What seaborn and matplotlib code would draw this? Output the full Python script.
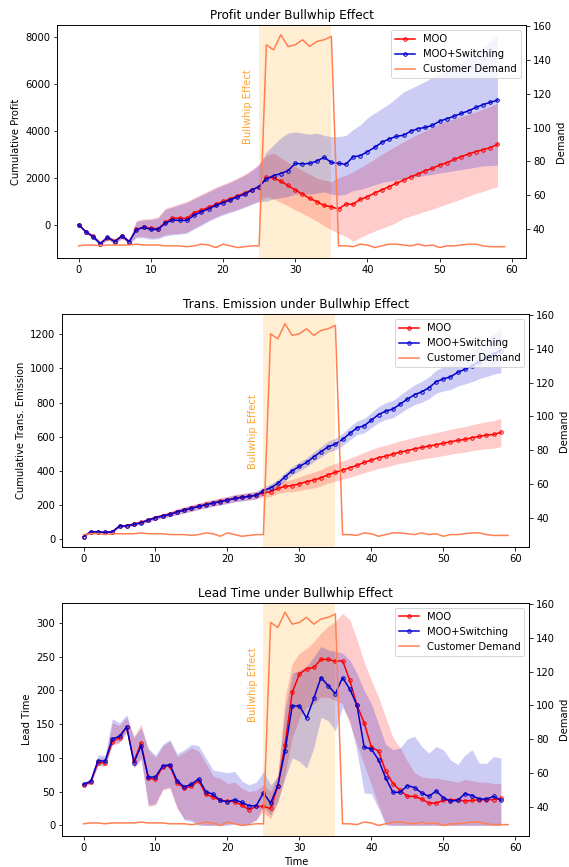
import matplotlib
matplotlib.use("agg")
import matplotlib.pyplot as plt
import matplotlib.transforms as mtransforms
import pandas as pd
import seaborn as sns

time = list(range(59))
demand_time = list(range(60))

customer_demand = [30, 30.5, 30.5, 30, 30.5, 30.5, 30.5, 30.5, 31, 30.5,
                   30.5, 30.5, 30, 30, 30, 29.5, 30, 31, 30.5, 29,
                   31, 30, 29, 29.5, 30, 30, 149, 146, 155, 148,
                   149, 152, 148, 151, 152, 154, 30, 30, 29.5, 31,
                   30.5, 29, 30, 31, 31, 30.5, 30, 31, 30, 30.5,
                   29, 30, 30, 30.5, 31, 31, 30, 29.5, 29.5, 29.5]

# ---- profit
profit_moo = [0, -300, -500, -800, -550, -700, -480, -720, -200, -100,
              -150, -170, 100, 280, 280, 270, 520, 620, 740, 870,
              990, 1100, 1230, 1350, 1490, 1620, 2010, 1990, 1850, 1670,
              1480, 1300, 1120, 980, 820, 760, 670, 880, 870, 1080,
              1190, 1350, 1480, 1620, 1760, 1900, 2040, 2160, 2300, 2400,
              2540, 2640, 2780, 2900, 3010, 3110, 3190, 3280, 3420]
profit_moo_lo = [-30, -350, -580, -900, -620, -800, -580, -800, -500, -500,
                 -560, -540, -430, -380, -360, -310, -130, 20, 200, 340,
                 460, 560, 660, 780, 900, 1020, 1200, 1100, 950, 800,
                 630, 480, 320, 150, -50, -220, -370, -500, -700, -550,
                 -400, -270, -150, -40, 100, 270, 370, 470, 570, 670,
                 770, 880, 990, 1100, 1220, 1330, 1420, 1520, 1620]
profit_moo_hi = [30, -250, -420, -700, -450, -600, -370, -630, 180, 250,
                 260, 330, 700, 800, 900, 1000, 1150, 1300, 1450, 1600,
                 1730, 1850, 2000, 2150, 2350, 2600, 2950, 3050, 2850, 2650,
                 2470, 2300, 2150, 1980, 1900, 1830, 2000, 2100, 2250, 2430,
                 2610, 2800, 3000, 3180, 3350, 3530, 3690, 3850, 4000, 4150,
                 4310, 4420, 4520, 4610, 4700, 4800, 4920, 5040, 5160]
profit_sw = [0, -300, -510, -800, -540, -720, -480, -720, -220, -110,
             -200, -200, 60, 200, 185, 185, 410, 550, 680, 820,
             940, 1050, 1190, 1300, 1480, 1620, 1950, 2090, 2180, 2300,
             2610, 2590, 2610, 2710, 2870, 2650, 2610, 2570, 2890, 2940,
             3110, 3290, 3510, 3650, 3760, 3810, 3980, 4090, 4140, 4230,
             4410, 4510, 4620, 4740, 4850, 4990, 5110, 5210, 5300]
profit_sw_lo = [-30, -350, -590, -910, -630, -810, -590, -810, -560, -560,
                -620, -600, -480, -430, -410, -360, -180, -30, 150, 290,
                420, 520, 620, 740, 860, 980, 1000, 1100, 1150, 1200,
                1300, 1300, 1300, 1350, 1400, 1300, 1250, 1300, 1450, 1500,
                1600, 1700, 1800, 1850, 1900, 1950, 2000, 2050, 2100, 2150,
                2200, 2250, 2300, 2350, 2400, 2450, 2500, 2520, 2540]
profit_sw_hi = [30, -250, -430, -700, -460, -620, -380, -640, 140, 210,
                220, 290, 650, 750, 850, 950, 1100, 1250, 1400, 1550,
                1680, 1800, 1950, 2100, 2300, 2550, 3100, 3400, 3700, 3900,
                3950, 3900, 3850, 3900, 3800, 3750, 3750, 3800, 4050, 4250,
                4550, 4750, 4950, 5150, 5400, 5650, 5800, 5950, 6100, 6270,
                6440, 6600, 6780, 6950, 7120, 7290, 7550, 7800, 8070]

# ---- transport emission
emis_moo = [14, 43, 43, 39, 43, 76, 79, 88, 98, 112,
            126, 137, 147, 161, 172, 182, 193, 203, 213, 221,
            230, 240, 246, 252, 258, 271, 277, 297, 309, 313,
            324, 336, 346, 359, 377, 391, 404, 418, 432, 449,
            463, 477, 486, 498, 510, 518, 529, 537, 545, 553,
            561, 570, 578, 584, 594, 602, 609, 613, 625]
emis_moo_sd = [2, 4, 5, 5, 6, 7, 8, 9, 10, 11,
               12, 13, 14, 16, 17, 18, 18, 19, 19, 20,
               20, 21, 21, 22, 22, 25, 28, 30, 33, 36,
               40, 43, 46, 48, 50, 52, 54, 56, 58, 60,
               62, 63, 64, 65, 66, 67, 68, 69, 70, 71,
               72, 73, 74, 75, 76, 78, 79, 81, 83]
emis_sw = [14, 43, 43, 39, 43, 76, 78, 86, 96, 111,
           125, 135, 144, 158, 170, 180, 191, 201, 211, 219,
           228, 238, 244, 250, 256, 283, 301, 326, 365, 400,
           426, 449, 482, 512, 541, 557, 584, 619, 652, 664,
           697, 730, 750, 762, 791, 820, 846, 863, 887, 922,
           939, 951, 977, 995, 1015, 1040, 1060, 1085, 1105]
emis_sw_sd = [2, 4, 5, 5, 6, 7, 8, 9, 10, 11,
              12, 13, 14, 16, 17, 18, 18, 19, 19, 20,
              20, 21, 21, 22, 22, 22, 22, 23, 24, 25,
              26, 27, 28, 30, 32, 34, 36, 38, 40, 42,
              45, 47, 49, 51, 53, 55, 58, 61, 64, 67,
              71, 75, 80, 86, 92, 100, 108, 118, 130]

# ---- lead time
lead_moo = [60, 64, 93, 93, 124, 130, 146, 95, 122, 70,
            68, 87, 88, 63, 55, 58, 66, 46, 42, 37,
            36, 35, 30, 23, 28, 28, 25, 58, 119, 197,
            224, 232, 234, 246, 246, 243, 244, 215, 178, 152,
            116, 110, 80, 62, 52, 43, 43, 39, 33, 33,
            37, 38, 38, 36, 37, 38, 38, 38, 40]
lead_moo_lo = [58, 61, 88, 88, 119, 122, 138, 84, 100, 28,
               30, 52, 55, 25, 10, 8, 2, 0, 0, 0,
               2, 3, 0, 3, 8, 20, 10, 35, 75, 130,
               160, 175, 180, 190, 190, 185, 180, 150, 120, 90,
               60, 30, 2, 0, 0, 0, 0, 0, 0, 0,
               0, 0, 0, 0, 0, 0, 0, 0, 0]
lead_moo_hi = [63, 68, 100, 100, 152, 148, 160, 132, 150, 112,
               100, 117, 125, 102, 108, 115, 110, 92, 73, 70,
               62, 64, 55, 50, 52, 60, 50, 75, 190, 240,
               255, 262, 272, 285, 295, 302, 314, 305, 275, 242,
               215, 190, 160, 130, 115, 95, 78, 72, 70, 70,
               68, 66, 64, 68, 66, 64, 64, 62, 62]
lead_sw = [61, 65, 96, 95, 128, 132, 146, 93, 118, 71,
           72, 88, 90, 66, 57, 61, 69, 50, 46, 37,
           35, 38, 34, 29, 29, 48, 33, 59, 110, 177,
           177, 159, 188, 219, 207, 195, 219, 202, 178, 116,
           113, 97, 70, 49, 49, 59, 56, 48, 43, 51,
           41, 36, 37, 47, 44, 39, 39, 43, 37]
lead_sw_lo = [59, 62, 89, 89, 120, 124, 139, 86, 98, 30,
              32, 54, 57, 27, 8, 6, 0, 0, 0, 0,
              0, 2, 0, 2, 8, 28, 15, 35, 70, 100,
              95, 85, 115, 160, 155, 140, 175, 155, 110, 48,
              47, 25, 0, 0, 0, 0, 0, 0, 0, 0,
              0, 0, 0, 0, 0, 0, 0, 0, 0]
lead_sw_hi = [64, 69, 104, 104, 158, 152, 164, 130, 145, 114,
              104, 120, 127, 106, 112, 120, 118, 100, 82, 80,
              78, 80, 66, 60, 64, 80, 60, 72, 170, 225,
              230, 235, 250, 265, 260, 258, 255, 245, 225, 200,
              180, 150, 120, 112, 115, 128, 132, 117, 107, 117,
              112, 97, 90, 104, 112, 92, 92, 102, 100]

emis_moo_lo = [m - s for m, s in zip(emis_moo, emis_moo_sd)]
emis_moo_hi = [m + s for m, s in zip(emis_moo, emis_moo_sd)]
emis_sw_lo = [m - s for m, s in zip(emis_sw, emis_sw_sd)]
emis_sw_hi = [m + s for m, s in zip(emis_sw, emis_sw_sd)]

panels = [
    dict(title="Profit under Bullwhip Effect", ylabel="Cumulative Profit",
         moo=(profit_moo, profit_moo_lo, profit_moo_hi),
         sw=(profit_sw, profit_sw_lo, profit_sw_hi),
         rect=[0.1007, 0.7024, 0.8237, 0.2687], ylim=(-1417, 8498), text_y=0.65),
    dict(title="Trans. Emission under Bullwhip Effect",
         ylabel="Cumulative Trans. Emission",
         moo=(emis_moo, emis_moo_lo, emis_moo_hi),
         sw=(emis_sw, emis_sw_lo, emis_sw_hi),
         rect=[0.1095, 0.3694, 0.8207, 0.2684], ylim=(-45, 1319), text_y=0.495),
    dict(title="Lead Time under Bullwhip Effect", ylabel="Lead Time",
         moo=(lead_moo, lead_moo_lo, lead_moo_hi),
         sw=(lead_sw, lead_sw_lo, lead_sw_hi),
         rect=[0.1095, 0.0358, 0.8207, 0.2691], ylim=(-15.7, 330), text_y=0.647),
]

fig = plt.figure(figsize=(569 / 72, 867 / 72), dpi=72)

for i, p in enumerate(panels):
    ax = fig.add_axes(p["rect"])
    ax.axvspan(25, 35, color="orange", alpha=0.18, lw=0)

    for (mean, lo, hi), color, label in [(p["moo"], "red", "MOO"),
                                         (p["sw"], "mediumblue", "MOO+Switching")]:
        df = pd.DataFrame({"t": time, "v": mean})
        ax.fill_between(time, lo, hi, color=color, alpha=0.2, lw=0)
        sns.lineplot(data=df, x="t", y="v", ax=ax, color=color, marker="o",
                     markersize=3.5, markerfacecolor="none",
                     markeredgecolor=color, markeredgewidth=1,
                     errorbar=None, label=label, legend=False)

    ax.text(23.5, p["text_y"], "Bullwhip Effect", rotation=90, ha="center",
            va="center", color="darkorange", alpha=0.8, fontsize=10,
            transform=mtransforms.blended_transform_factory(ax.transData, ax.transAxes))
    ax.set_ylim(*p["ylim"])
    ax.set_ylabel(p["ylabel"])
    ax.set_xlabel("Time" if i == 2 else "")
    ax.set_title(p["title"])

    ax2 = ax.twinx()
    dd = pd.DataFrame({"t": demand_time, "d": customer_demand})
    sns.lineplot(data=dd, x="t", y="d", ax=ax2, color="coral",
                 label="Customer Demand", legend=False)
    ax2.set_ylim(22.8, 160.7)
    ax2.set_ylabel("Demand")
    ax2.set_xlabel("Time" if i == 2 else "")

    h1, l1 = ax.get_legend_handles_labels()
    h2, l2 = ax2.get_legend_handles_labels()
    ax2.legend(h1 + h2, l1 + l2, loc="upper right")

fig.savefig("out.png", dpi=72)
